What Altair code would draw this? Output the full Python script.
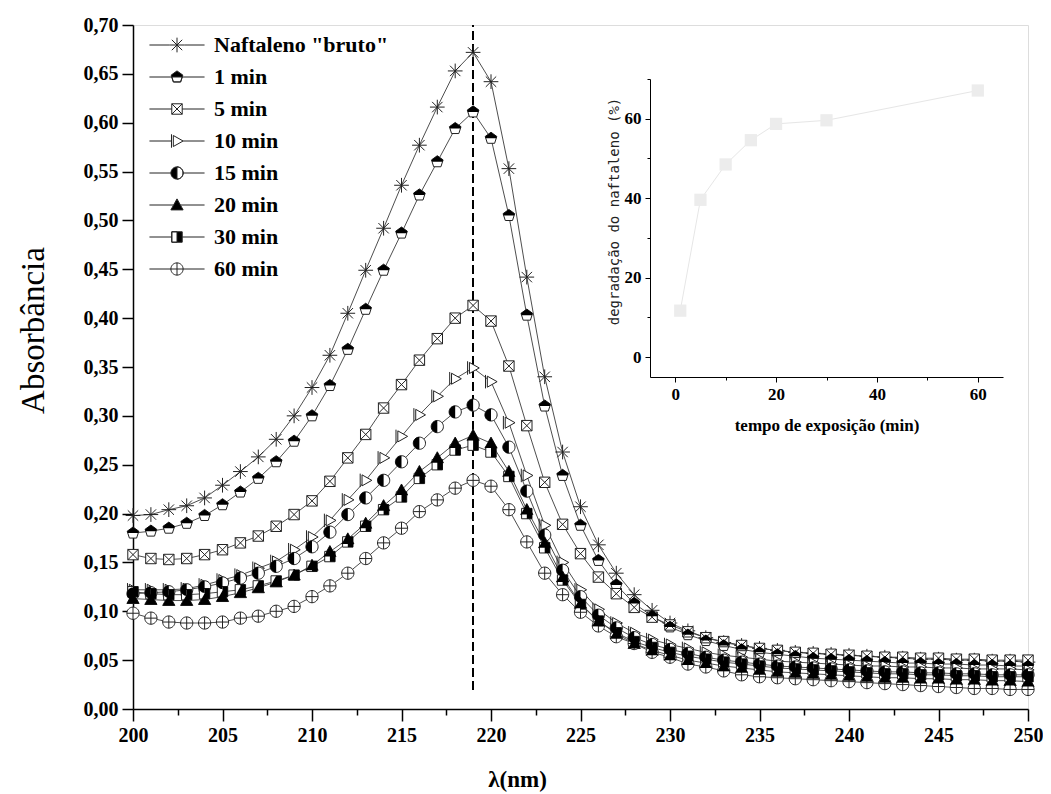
import altair as alt
import pandas as pd

# ---------------- data ----------------
wavelength = list(range(200, 251))
series_names = ['Naftaleno "bruto"', "1 min", "5 min", "10 min", "15 min", "20 min", "30 min", "60 min"]

naftaleno = [0.198, 0.199, 0.204, 0.208, 0.216, 0.229, 0.243, 0.258, 0.276, 0.300,
             0.329, 0.362, 0.405, 0.449, 0.492, 0.536, 0.577, 0.616, 0.653, 0.672,
             0.642, 0.553, 0.442, 0.340, 0.263, 0.207, 0.168, 0.139, 0.117, 0.101,
             0.088, 0.080, 0.073, 0.068, 0.065, 0.062, 0.060, 0.058, 0.057, 0.056,
             0.055, 0.054, 0.053, 0.052, 0.051, 0.051, 0.050, 0.050, 0.049, 0.049, 0.048]
min1 = [0.180, 0.182, 0.185, 0.190, 0.198, 0.209, 0.222, 0.236, 0.253, 0.274,
        0.300, 0.331, 0.368, 0.409, 0.449, 0.487, 0.526, 0.560, 0.594, 0.611,
        0.584, 0.505, 0.403, 0.310, 0.239, 0.188, 0.152, 0.127, 0.108, 0.095,
        0.084, 0.076, 0.070, 0.065, 0.061, 0.058, 0.056, 0.054, 0.052, 0.051,
        0.050, 0.049, 0.048, 0.047, 0.047, 0.046, 0.046, 0.045, 0.045, 0.044, 0.044]
min5 = [0.158, 0.154, 0.153, 0.154, 0.158, 0.163, 0.170, 0.177, 0.187, 0.199,
        0.213, 0.233, 0.257, 0.281, 0.308, 0.332, 0.357, 0.379, 0.400, 0.413,
        0.397, 0.351, 0.290, 0.232, 0.189, 0.159, 0.135, 0.118, 0.104, 0.094,
        0.086, 0.079, 0.073, 0.069, 0.065, 0.062, 0.060, 0.058, 0.057, 0.056,
        0.055, 0.054, 0.053, 0.053, 0.052, 0.052, 0.051, 0.051, 0.050, 0.050, 0.050]
min10 = [0.122, 0.122, 0.122, 0.123, 0.127, 0.132, 0.137, 0.144, 0.151, 0.163,
         0.176, 0.193, 0.214, 0.234, 0.257, 0.279, 0.301, 0.320, 0.338, 0.349,
         0.335, 0.293, 0.239, 0.188, 0.150, 0.122, 0.102, 0.088, 0.078, 0.071,
         0.066, 0.062, 0.058, 0.055, 0.053, 0.051, 0.049, 0.048, 0.047, 0.046,
         0.045, 0.044, 0.044, 0.043, 0.043, 0.042, 0.042, 0.041, 0.041, 0.041, 0.040]
min15 = [0.118, 0.119, 0.120, 0.122, 0.125, 0.129, 0.134, 0.139, 0.146, 0.154,
         0.166, 0.181, 0.199, 0.216, 0.234, 0.253, 0.272, 0.289, 0.304, 0.311,
         0.301, 0.268, 0.223, 0.178, 0.142, 0.115, 0.096, 0.083, 0.073, 0.066,
         0.061, 0.057, 0.053, 0.050, 0.048, 0.046, 0.044, 0.043, 0.042, 0.041,
         0.040, 0.039, 0.038, 0.038, 0.037, 0.037, 0.036, 0.036, 0.035, 0.035, 0.035]
min20 = [0.113, 0.112, 0.111, 0.111, 0.112, 0.115, 0.119, 0.124, 0.130, 0.137,
         0.147, 0.161, 0.174, 0.190, 0.208, 0.224, 0.243, 0.257, 0.272, 0.280,
         0.272, 0.243, 0.204, 0.170, 0.135, 0.108, 0.090, 0.077, 0.067, 0.060,
         0.055, 0.050, 0.047, 0.044, 0.042, 0.040, 0.038, 0.037, 0.036, 0.035,
         0.034, 0.033, 0.032, 0.032, 0.031, 0.031, 0.030, 0.030, 0.029, 0.029, 0.028]
min30 = [0.120, 0.118, 0.117, 0.117, 0.118, 0.120, 0.122, 0.126, 0.131, 0.137,
         0.146, 0.156, 0.171, 0.187, 0.204, 0.217, 0.236, 0.250, 0.265, 0.270,
         0.263, 0.238, 0.200, 0.165, 0.132, 0.107, 0.090, 0.078, 0.069, 0.063,
         0.058, 0.054, 0.051, 0.048, 0.046, 0.044, 0.042, 0.041, 0.040, 0.039,
         0.038, 0.037, 0.036, 0.036, 0.035, 0.035, 0.034, 0.034, 0.033, 0.033, 0.033]
min60 = [0.098, 0.093, 0.089, 0.088, 0.088, 0.089, 0.093, 0.095, 0.100, 0.105,
         0.115, 0.126, 0.139, 0.154, 0.170, 0.185, 0.202, 0.214, 0.226, 0.234,
         0.228, 0.204, 0.171, 0.139, 0.117, 0.099, 0.085, 0.074, 0.067, 0.058,
         0.053, 0.046, 0.043, 0.039, 0.035, 0.033, 0.032, 0.031, 0.030, 0.029,
         0.028, 0.027, 0.026, 0.025, 0.024, 0.023, 0.022, 0.021, 0.021, 0.020, 0.020]

peak_wavelength = 219

inset_time = [1, 5, 10, 15, 20, 30, 60]
inset_degradation = [11.7, 39.6, 48.5, 54.6, 58.7, 59.6, 67.1]

# ---------------- tables ----------------
all_series = [naftaleno, min1, min5, min10, min15, min20, min30, min60]
rows = []
for name, vals in zip(series_names, all_series):
    for lam, v in zip(wavelength, vals):
        rows.append({"lam": lam, "absb": v, "serie": name})
df = pd.DataFrame(rows)
df_inset = pd.DataFrame({"tempo": inset_time, "deg": inset_degradation})

# ---------------- marker shapes ----------------
star = "M-1.2,0H1.2M0,-1.2V1.2M-0.85,-0.85L0.85,0.85M-0.85,0.85L0.85,-0.85"
pent = "M0,-1L0.95,-0.31L0.59,0.81L-0.59,0.81L-0.95,-0.31Z"
pent_fill = "M0,-1L0.95,-0.31L0.85,0L-0.85,0L-0.95,-0.31Z"
xsq = "M-0.85,-0.85H0.85V0.85H-0.85ZM-0.85,-0.85L0.85,0.85M-0.85,0.85L0.85,-0.85"
rtri = "M-0.6,-0.9L1,0L-0.6,0.9ZM-0.9,-1.1V1.1"
circ = "M1,0A1,1 0 1,1 -1,0A1,1 0 1,1 1,0Z"
circ_left = "M0,-1A1,1 0 0,0 0,1Z"
tri = "M0,-1L1,0.8L-1,0.8Z"
sq = "M-0.85,-0.85H0.85V0.85H-0.85Z"
sq_right = "M0,-0.85H0.85V0.85H0Z"
circ_plus = circ + "M-1,0H1M0,-1V1"

outline_paths = [star, pent, xsq, rtri, circ, tri, sq, circ_plus]
fill_series = ["1 min", "15 min", "20 min", "30 min"]
fill_paths = [pent_fill, circ_left, tri, sq_right]


def seg(a, b):
    return f"M-4.5,0H{-a}M{b},0H4.5"


legend_paths = [
    seg(1.2, 1.2) + star,
    seg(0.85, 0.85) + pent_fill + "M0.85,0L0.59,0.81L-0.59,0.81L-0.85,0L-0.59,0.81L0.59,0.81L0.85,0",
    seg(0.85, 0.85) + xsq,
    seg(0.9, 1.0) + rtri,
    seg(1.0, 1.0) + circ_left + "M0,-1A1,1 0 0,1 0,1A1,1 0 0,0 0,-1",
    seg(0.55, 0.55) + tri,
    seg(0.85, 0.85) + sq_right + "M0,-0.85H-0.85V0.85H0H-0.85V-0.85H0",
    seg(1.0, 1.0) + circ_plus,
]
legend_fills = ["white", "black", "white", "white", "black", "black", "black", "white"]
legend_strokes = ["#222"] * 8

FONT = "Liberation Serif"

# ---------------- main axes ----------------
x_vals = [200 + 2.5 * i for i in range(21)]
y_vals = [round(0.025 * i, 3) for i in range(29)]

X = alt.X(
    "lam:Q",
    scale=alt.Scale(domain=[200, 250], nice=False, zero=False),
    axis=alt.Axis(
        values=x_vals,
        labelExpr="datum.value % 5 === 0 ? format(datum.value, 'd') : ''",
        tickSize={"condition": {"test": "datum.value % 5 === 0", "value": 12}, "value": 6},
        tickColor="black", tickWidth=1.5, domainColor="black", domainWidth=1.5,
        labelFont=FONT, labelFontWeight="bold", labelFontSize=20, labelColor="black",
        labelPadding=4, labelFlush=False, labelOverlap=False, grid=False,
        title="λ(nm)", titleFont=FONT, titleFontWeight="bold", titleFontSize=23,
        titleColor="black", titlePadding=23, titleX=384,
    ),
)
Y = alt.Y(
    "absb:Q",
    scale=alt.Scale(domain=[0, 0.70], nice=False, zero=False),
    axis=alt.Axis(
        values=y_vals,
        labelExpr="round(datum.value * 1000) % 50 === 0 ? replace(format(datum.value, '.2f'), '.', ',') : ''",
        tickSize={"condition": {"test": "round(datum.value * 1000) % 50 === 0", "value": 11}, "value": 6},
        tickColor="black", tickWidth=1.5, domainColor="black", domainWidth=1.5,
        labelFont=FONT, labelFontWeight="bold", labelFontSize=20, labelColor="black",
        labelPadding=4, labelFlush=False, labelOverlap=False, grid=False,
        title="Absorbância", titleFont=FONT, titleFontWeight="normal", titleFontSize=33,
        titleColor="black", titlePadding=33, titleY=305,
    ),
)

base = alt.Chart(df)

lines = base.mark_line(color="#3a3a3a", strokeWidth=0.9).encode(x=X, y=Y, detail="serie:N")

vline = alt.Chart(df).mark_rule(color="black", strokeWidth=1.8, strokeDash=[8, 5]).encode(
    x=alt.datum(peak_wavelength), y=alt.datum(0.02), y2=alt.datum(0.70)
)

markers_outline = base.mark_point(
    filled=True, fill="white", fillOpacity=1, stroke="#222", strokeWidth=1, size=150, opacity=1
).encode(
    x=X, y=Y,
    shape=alt.Shape("serie:N", scale=alt.Scale(domain=series_names, range=outline_paths), legend=None),
)

markers_fill = base.transform_filter(
    alt.FieldOneOfPredicate(field="serie", oneOf=fill_series)
).mark_point(filled=True, fill="black", fillOpacity=1, strokeWidth=0, size=150, opacity=1).encode(
    x=X, y=Y,
    shape=alt.Shape("serie:N", scale=alt.Scale(domain=fill_series, range=fill_paths), legend=None),
)

leg = alt.Legend(
    title=None, orient="none", legendX=33, legendY=9, direction="vertical",
    symbolSize=150, symbolStrokeWidth=1, symbolStrokeColor="#222", symbolOpacity=1,
    labelFont=FONT, labelFontWeight="bold", labelFontSize=22, labelColor="black",
    labelOffset=26, rowPadding=10, labelLimit=400,
)
legend_layer = base.mark_point(opacity=0, size=150, strokeWidth=1).encode(
    x=X, y=Y,
    shape=alt.Shape("serie:N", scale=alt.Scale(domain=series_names, range=legend_paths), legend=leg),
    fill=alt.Fill("serie:N", scale=alt.Scale(domain=series_names, range=legend_fills), legend=leg),
    stroke=alt.Stroke("serie:N", scale=alt.Scale(domain=series_names, range=legend_strokes), legend=leg),
)

main = alt.layer(lines, vline, markers_outline, markers_fill, legend_layer).resolve_scale(
    shape="independent", fill="independent", stroke="independent"
)

# ---------------- inset ----------------
IX = alt.X(
    "tempo:Q",
    scale=alt.Scale(domain=[-5, 65], range=[517, 870], nice=False, zero=False),
    axis=alt.Axis(
        orient="bottom", offset=-332, values=[0, 10, 20, 30, 40, 50, 60],
        labelExpr="datum.value % 20 === 0 ? format(datum.value, 'd') : ''",
        tickSize={"condition": {"test": "datum.value % 20 === 0", "value": 5}, "value": 3},
        tickColor="black", domainColor="black", grid=False,
        labelFont=FONT, labelFontWeight="bold", labelFontSize=17, labelColor="black",
        labelPadding=4, labelFlush=False,
        title="tempo de exposição (min)", titleFont=FONT, titleFontWeight="bold",
        titleFontSize=17, titleColor="black", titlePadding=15,
    ),
)
IY = alt.Y(
    "deg:Q",
    scale=alt.Scale(domain=[-5, 70], range=[352, 54], nice=False, zero=False),
    axis=alt.Axis(
        orient="left", offset=-517, values=[0, 10, 20, 30, 40, 50, 60, 70],
        labelExpr="datum.value % 20 === 0 ? format(datum.value, 'd') : ''",
        tickSize={"condition": {"test": "datum.value % 20 === 0", "value": 5}, "value": 3},
        tickColor="black", domainColor="black", grid=False,
        labelFont=FONT, labelFontWeight="bold", labelFontSize=17, labelColor="black",
        labelPadding=4, labelFlush=False,
        title="degradação do naftaleno (%)", titleFont="DejaVu Sans Mono", titleFontWeight="normal",
        titleFontSize=14, titleColor="#222", titlePadding=3, titleY=186,
    ),
)
inset_base = alt.Chart(df_inset)
inset_line = inset_base.mark_line(color="#e6e6e6", strokeWidth=1).encode(x=IX, y=IY)
inset_pts = inset_base.mark_point(shape="square", filled=True, color="#ececec", size=150, opacity=1).encode(
    x=IX, y=IY
)
inset = alt.layer(inset_line, inset_pts)

chart = (
    alt.layer(main, inset)
    .resolve_scale(x="independent", y="independent")
    .properties(
        width=895, height=684,
        autosize=alt.AutoSizeParams(type="none"),
        padding={"left": 125, "top": 17, "right": 15, "bottom": 85},
    )
    .configure_view(stroke=None)
    .configure(background="white")
)

chart.save("out.html", embed_options={"renderer": "svg", "actions": False})
